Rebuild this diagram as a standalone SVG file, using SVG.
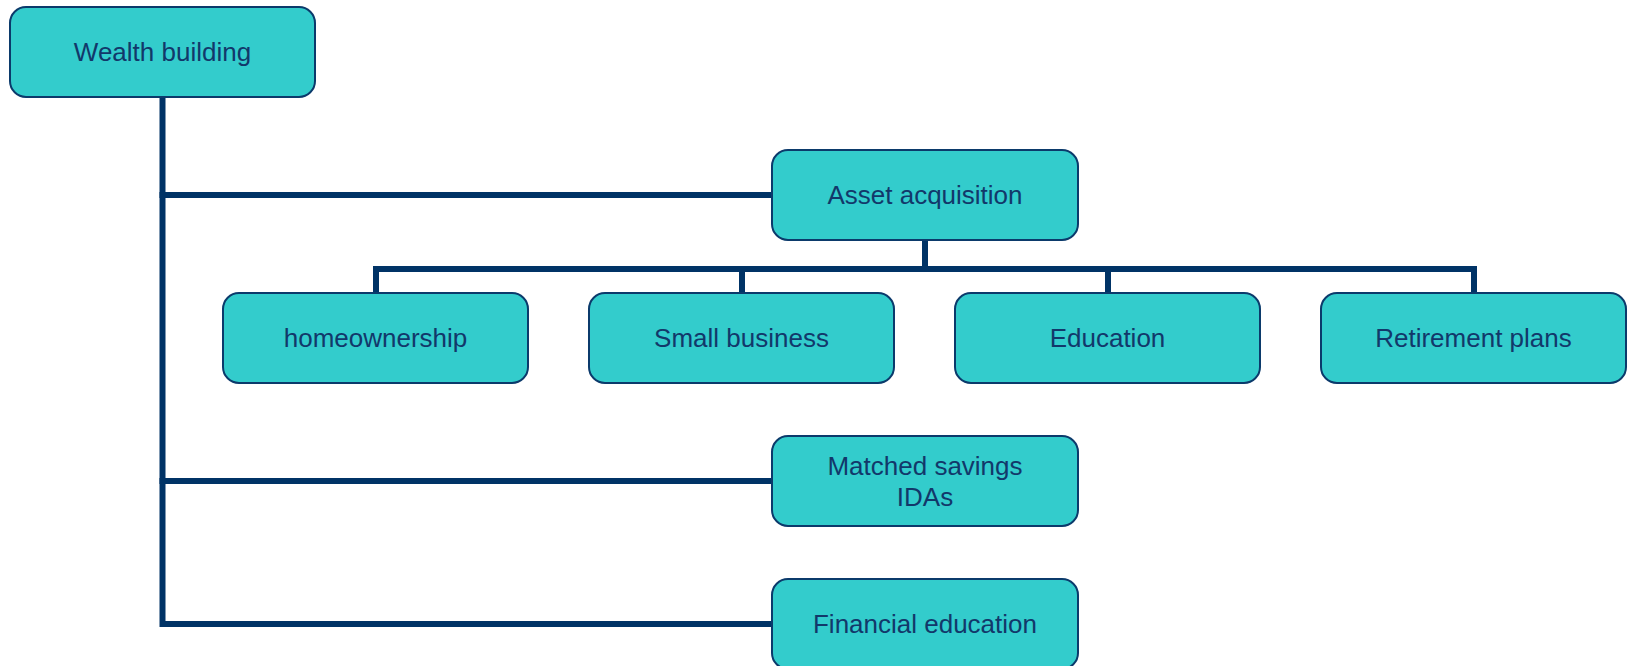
<svg xmlns="http://www.w3.org/2000/svg" width="1632" height="666" viewBox="0 0 1632 666">
<style>
.box{fill:#33CCCC;stroke:#0B3A6B;stroke-width:2}
.lbl{font-family:"Liberation Sans",Arial,sans-serif;font-size:26px;fill:#12386A;text-anchor:middle}
.conn{fill:none;stroke:#003366;stroke-width:6;stroke-linejoin:miter;stroke-linecap:square}
</style>
<rect width="1632" height="666" fill="#FFFFFF"/>
<g id="connectors">
<path class="conn" d="M162.5 97 V624 H772"/>
<path class="conn" d="M162.5 195 H772"/>
<path class="conn" d="M162.5 481 H772"/>
<path class="conn" d="M925 240 V269"/>
<path class="conn" d="M376 293 V269 H1474 V293"/>
<path class="conn" d="M742 269 V293"/>
<path class="conn" d="M1108 269 V293"/>
</g>
<g id="wealth-building">
<rect class="box" x="10" y="7" width="305" height="90" rx="16"/>
<text class="lbl" x="162.5" y="61">Wealth building</text>
</g>
<g id="asset-acquisition">
<rect class="box" x="772" y="150" width="306" height="90" rx="16"/>
<text class="lbl" x="925" y="204">Asset acquisition</text>
</g>
<g id="homeownership">
<rect class="box" x="223" y="293" width="305" height="90" rx="16"/>
<text class="lbl" x="375.5" y="347">homeownership</text>
</g>
<g id="small-business">
<rect class="box" x="589" y="293" width="305" height="90" rx="16"/>
<text class="lbl" x="741.5" y="347">Small business</text>
</g>
<g id="education">
<rect class="box" x="955" y="293" width="305" height="90" rx="16"/>
<text class="lbl" x="1107.5" y="347">Education</text>
</g>
<g id="retirement-plans">
<rect class="box" x="1321" y="293" width="305" height="90" rx="16"/>
<text class="lbl" x="1473.5" y="347">Retirement plans</text>
</g>
<g id="matched-savings">
<rect class="box" x="772" y="436" width="306" height="90" rx="16"/>
<text class="lbl" x="925" y="475">Matched savings</text>
<text class="lbl" x="925" y="506">IDAs</text>
</g>
<g id="financial-education">
<rect class="box" x="772" y="579" width="306" height="90" rx="16"/>
<text class="lbl" x="925" y="633">Financial education</text>
</g>
</svg>
